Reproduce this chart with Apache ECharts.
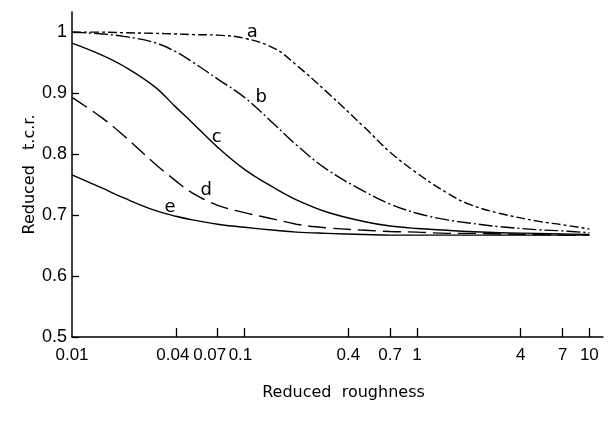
<!DOCTYPE html>
<html>
<head>
<meta charset="utf-8">
<script src="https://cdn.jsdelivr.net/npm/echarts@6/dist/echarts.min.js"></script>
<style>html,body{margin:0;padding:0;background:#fff}#chart{width:609px;height:447px}</style>
</head>
<body>
<div id="chart"></div>
<script>
// Reduced roughness (x, log scale)
var roughness = [0.01, 0.015, 0.02, 0.03, 0.04, 0.05, 0.07, 0.1, 0.15, 0.2, 0.3, 0.5, 0.7, 1, 1.5, 2, 3, 5, 7, 10];
// Reduced t.c.r. for each curve
var curveA = [1.000, 1.000, 0.999, 0.998, 0.997, 0.996, 0.995, 0.990, 0.973, 0.946, 0.902, 0.843, 0.803, 0.769, 0.736, 0.718, 0.703, 0.690, 0.684, 0.677];
var curveB = [1.000, 0.997, 0.993, 0.983, 0.968, 0.951, 0.923, 0.893, 0.848, 0.815, 0.775, 0.738, 0.718, 0.703, 0.692, 0.687, 0.681, 0.676, 0.674, 0.671];
var curveC = [0.982, 0.962, 0.944, 0.911, 0.877, 0.851, 0.811, 0.775, 0.744, 0.725, 0.705, 0.689, 0.682, 0.678, 0.675, 0.673, 0.671, 0.670, 0.669, 0.668];
var curveD = [0.893, 0.859, 0.830, 0.785, 0.756, 0.736, 0.716, 0.704, 0.693, 0.685, 0.679, 0.675, 0.673, 0.672, 0.670, 0.670, 0.669, 0.668, 0.667, 0.667];
var curveE = [0.766, 0.744, 0.728, 0.708, 0.698, 0.692, 0.685, 0.680, 0.675, 0.672, 0.670, 0.668, 0.667, 0.667, 0.667, 0.667, 0.667, 0.667, 0.667, 0.667];
var curveNames = ['a', 'b', 'c', 'd', 'e'];
// curve label anchor points (data space)
var labelX = [0.111, 0.125, 0.069, 0.060, 0.037];
var labelY = [1.000, 0.893, 0.828, 0.740, 0.713];
// tick labels
var xTicks = [0.01, 0.04, 0.07, 0.1, 0.4, 0.7, 1, 4, 7, 10];
var xTickMarks = [0.04, 0.07, 0.1, 0.4, 0.7, 1, 4, 7, 10];
var yTickLabels = ['0.5', '0.6', '0.7', '0.8', '0.9', '1'];

var curves = [curveA, curveB, curveC, curveD, curveE];
var dashes = [[9, 3, 3, 3], [14, 3, 2, 3], 'solid', [18, 7], 'solid'];

var chart = echarts.init(document.getElementById('chart'), null, {renderer: 'canvas'});
var FONT = '"Liberation Sans", Arial, sans-serif';
var NAMEFONT = '"DejaVu Sans", sans-serif';

var series = curves.map(function (vals, i) {
  return {
    type: 'line',
    name: curveNames[i],
    data: roughness.map(function (x, k) { return [x, vals[k]]; }),
    smooth: 0.4,
    symbol: 'none',
    lineStyle: {color: '#000', width: 1.4, type: dashes[i]}
  };
});
series.push({
  type: 'scatter',
  name: 'labels',
  data: curveNames.map(function (n, i) { return {name: n, value: [labelX[i], labelY[i]]}; }),
  symbol: 'circle',
  symbolSize: 2,
  itemStyle: {color: 'rgba(255,255,255,0)', opacity: 1},
  label: {
    show: true, position: 'inside', color: '#000', fontSize: 18, fontFamily: NAMEFONT,
    textBorderWidth: 0,
    formatter: function (p) { return p.name; }
  },
  silent: true,
  z: 5
});

// nudge crowded tick labels slightly left, as in the reference
var shiftStyle = {0.04: 's3', 0.07: 's8', 0.1: 's4'};

chart.setOption({
  animation: false,
  backgroundColor: '#fff',
  grid: {left: 72, right: 6, top: 12, bottom: 110, containLabel: false},
  xAxis: {
    type: 'log',
    logBase: 10,
    min: 0.01,
    max: 12,
    name: 'Reduced  roughness',
    nameLocation: 'middle',
    nameGap: 48,
    nameMoveOverlap: false,
    nameTextStyle: {fontFamily: NAMEFONT, fontSize: 16, color: '#000', padding: [0, 0, 0, 12]},
    axisLine: {show: true, onZero: false, lineStyle: {color: '#000', width: 1.5}},
    axisTick: {show: true, inside: true, length: 9, customValues: xTickMarks, lineStyle: {color: '#000', width: 1.3}},
    axisLabel: {
      show: true, customValues: xTicks, color: '#000', fontSize: 17, fontFamily: FONT, margin: 10,
      hideOverlap: false,
      formatter: function (v) {
        var s = String(+v.toPrecision(3));
        var st = shiftStyle[s];
        return st ? '{' + st + '|' + s + '}' : s;
      },
      rich: {
        s3: {fontSize: 17, fontFamily: FONT, color: '#000', padding: [0, 6, 0, 0]},
        s4: {fontSize: 17, fontFamily: FONT, color: '#000', padding: [0, 8, 0, 0]},
        s8: {fontSize: 17, fontFamily: FONT, color: '#000', padding: [0, 16, 0, 0]}
      }
    },
    splitLine: {show: false},
    minorTick: {show: false}
  },
  yAxis: {
    type: 'value',
    min: 0.5,
    max: 1.033,
    interval: 0.1,
    name: 'Reduced   t.c.r.',
    nameLocation: 'middle',
    nameGap: 34,
    nameRotate: 90,
    nameMoveOverlap: false,
    nameTextStyle: {fontFamily: NAMEFONT, fontSize: 16, color: '#000'},
    axisLine: {show: true, onZero: false, lineStyle: {color: '#000', width: 1.5}},
    axisTick: {show: true, inside: true, length: 7, lineStyle: {color: '#000', width: 1.3}},
    axisLabel: {
      show: true, showMaxLabel: false, color: '#000', fontSize: 18, fontFamily: FONT, margin: 5,
      formatter: function (v) {
        var idx = Math.round((v - 0.5) / 0.1);
        return yTickLabels[idx] !== undefined ? yTickLabels[idx] : '';
      }
    },
    splitLine: {show: false}
  },
  series: series
});
</script>
</body>
</html>
